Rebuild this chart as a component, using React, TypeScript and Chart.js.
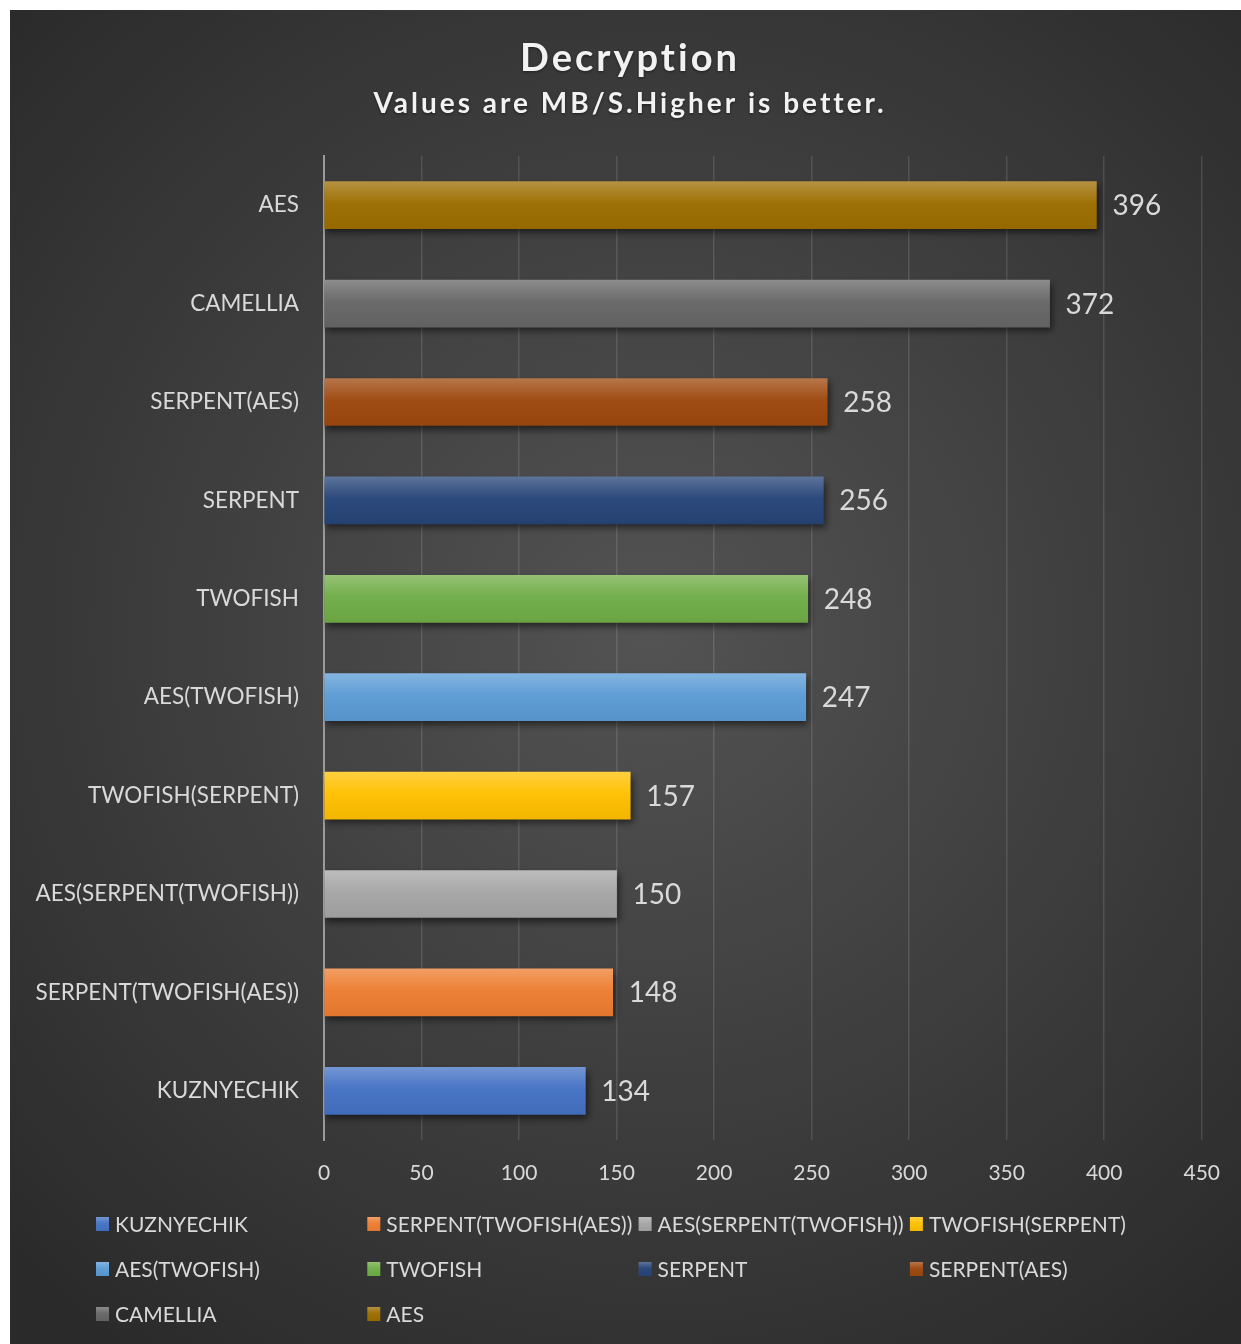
import React, { useEffect, useRef } from "react";
import { Chart, registerables } from "chart.js";

Chart.register(...registerables);

const categories = [
  "AES",
  "CAMELLIA",
  "SERPENT(AES)",
  "SERPENT",
  "TWOFISH",
  "AES(TWOFISH)",
  "TWOFISH(SERPENT)",
  "AES(SERPENT(TWOFISH))",
  "SERPENT(TWOFISH(AES))",
  "KUZNYECHIK",
];
const values = [396, 372, 258, 256, 248, 247, 157, 150, 148, 134];
const colors = [
  "#9c6e00",
  "#666666",
  "#9e480e",
  "#264478",
  "#70ad47",
  "#5b9bd5",
  "#ffc000",
  "#a5a5a5",
  "#ed7d31",
  "#4472c4",
];
const legendOrder = [
  "KUZNYECHIK",
  "SERPENT(TWOFISH(AES))",
  "AES(SERPENT(TWOFISH))",
  "TWOFISH(SERPENT)",
  "AES(TWOFISH)",
  "TWOFISH",
  "SERPENT",
  "SERPENT(AES)",
  "CAMELLIA",
  "AES",
];
const titleText = "Decryption";
const subtitleText = "Values are MB/S.Higher is better.";
const xMax = 450;
const xStep = 50;

const FONT = "Lato, 'Noto Sans', sans-serif";
const TEXT = "#d9d9d9";

function mix(hex: string, target: number, amt: number) {
  const n = parseInt(hex.slice(1), 16);
  const r = (n >> 16) & 255, g = (n >> 8) & 255, b = n & 255;
  const f = (c: number) => Math.round(c + (target - c) * amt);
  return `rgb(${f(r)},${f(g)},${f(b)})`;
}

function barGradient(ctx: CanvasRenderingContext2D, base: string, top: number, bottom: number) {
  const g = ctx.createLinearGradient(0, top, 0, bottom);
  g.addColorStop(0, mix(base, 255, 0.25));
  g.addColorStop(0.45, mix(base, 255, 0.03));
  g.addColorStop(1, mix(base, 0, 0.05));
  return g;
}

const bgPlugin = {
  id: "bg",
  beforeDraw(chart: any) {
    const { ctx, width, height } = chart;
    ctx.save();
    const g = ctx.createRadialGradient(640, 620, 0, 640, 620, 900);
    g.addColorStop(0, "#535353");
    g.addColorStop(1, "#2a2a2a");
    ctx.fillStyle = g;
    ctx.fillRect(0, 0, width, height);
    ctx.fillStyle = "#f2f2f2";
    ctx.textAlign = "center";
    ctx.textBaseline = "middle";
    ctx.shadowColor = "rgba(0,0,0,0.5)";
    ctx.shadowBlur = 3;
    ctx.shadowOffsetY = 1;
    (ctx as any).letterSpacing = "3px";
    ctx.font = `bold 38px ${FONT}`;
    ctx.fillText(titleText, 620, 49);
    ctx.font = `bold 28px ${FONT}`;
    ctx.fillText(subtitleText, 620, 94);
    (ctx as any).letterSpacing = "0px";
    ctx.restore();
  },
};

const shadowPlugin = {
  id: "shadow",
  beforeDatasetsDraw(chart: any) {
    const ctx = chart.ctx;
    ctx.save();
    ctx.shadowColor = "rgba(0,0,0,0.55)";
    ctx.shadowBlur = 7;
    ctx.shadowOffsetX = 2;
    ctx.shadowOffsetY = 4;
  },
  afterDatasetsDraw(chart: any) {
    const ctx = chart.ctx;
    ctx.restore();
    const x = chart.scales.x;
    const y = chart.scales.y;
    ctx.save();
    ctx.fillStyle = TEXT;
    ctx.font = `28px ${FONT}`;
    ctx.textAlign = "left";
    ctx.textBaseline = "middle";
    values.forEach((v, i) => {
      ctx.fillText(String(v), x.getPixelForValue(v) + 16, y.getPixelForValue(i) + 1);
    });
    ctx.restore();
  },
};

const legendPlugin = {
  id: "customLegend",
  afterDraw(chart: any) {
    const ctx = chart.ctx;
    ctx.save();
    ctx.font = `21px ${FONT}`;
    ctx.textAlign = "left";
    ctx.textBaseline = "middle";
    legendOrder.forEach((name, k) => {
      const col = k % 4;
      const row = Math.floor(k / 4);
      const cx = 86 + col * 271.3;
      const cy = 1214 + row * 45;
      const base = colors[categories.indexOf(name)];
      ctx.fillStyle = barGradient(ctx, base, cy - 7, cy + 7);
      ctx.fillRect(cx, cy - 7, 13, 14);
      ctx.fillStyle = TEXT;
      ctx.fillText(name, cx + 19, cy + 1);
    });
    ctx.restore();
  },
};

export default function App() {
  const ref = useRef<HTMLCanvasElement | null>(null);
  useEffect(() => {
    if (!ref.current) return;
    const datasets = categories.map((name, i) => ({
      label: name,
      data: categories.map((_, j) => (j === i ? values[i] : null)),
      barThickness: 47,
      backgroundColor: (c: any) => {
        const chart = c.chart;
        const y = chart.scales && chart.scales.y;
        if (!y || c.type !== "data") return colors[i];
        const mid = y.getPixelForValue(c.dataIndex);
        if (!isFinite(mid)) return colors[i];
        return barGradient(chart.ctx, colors[i], mid - 23.5, mid + 23.5);
      },
    }));
    const chart = new Chart(ref.current, {
      type: "bar",
      data: { labels: categories, datasets },
      options: {
        indexAxis: "y",
        animation: false,
        responsive: false,
        layout: { padding: { top: 146, right: 39, left: 0, bottom: 0 } },
        plugins: { legend: { display: false }, tooltip: { enabled: false }, title: { display: false } },
        scales: {
          x: {
            stacked: true,
            min: 0,
            max: xMax,
            ticks: { stepSize: xStep, color: TEXT, font: { family: FONT, size: 21 }, padding: 21 },
            grid: { color: "rgba(255,255,255,0.12)", lineWidth: 1.5, drawTicks: false },
            border: { display: false },
            afterFit: (s: any) => {
              s.height = 204;
            },
          },
          y: {
            stacked: true,
            ticks: { color: TEXT, font: { family: FONT, size: 22.5 }, padding: 25 },
            grid: { display: false, drawTicks: false },
            border: { display: true, color: "#9a9a9a", width: 2 },
            afterFit: (s: any) => {
              s.width = 314;
            },
          },
        },
      },
      plugins: [bgPlugin, shadowPlugin, legendPlugin],
    });
    return () => chart.destroy();
  }, []);
  return (
    <div style={{ position: "fixed", left: 10, top: 10, width: 1231, height: 1334 }}>
      <canvas ref={ref} width={1231} height={1334} style={{ display: "block" }} />
    </div>
  );
}
